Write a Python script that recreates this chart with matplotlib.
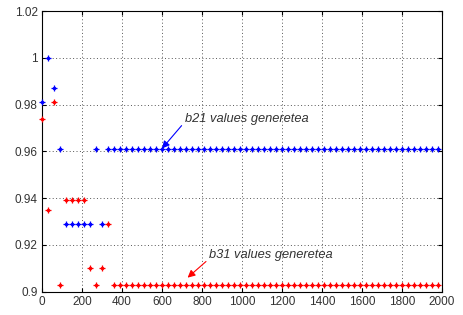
import matplotlib
matplotlib.use("Agg")
import matplotlib.pyplot as plt

plt.rcParams['font.family'] = ['Liberation Sans', 'DejaVu Sans']

# sample positions (every 30 iterations, 0..1980)
x_iter = [0, 30, 60, 90, 120, 150, 180, 210, 240, 270, 300, 330, 360, 390, 420, 450, 480, 510, 540, 570,
          600, 630, 660, 690, 720, 750, 780, 810, 840, 870, 900, 930, 960, 990, 1020, 1050, 1080, 1110, 1140, 1170,
          1200, 1230, 1260, 1290, 1320, 1350, 1380, 1410, 1440, 1470, 1500, 1530, 1560, 1590, 1620, 1650, 1680, 1710,
          1740, 1770, 1800, 1830, 1860, 1890, 1920, 1950, 1980]

# b21 values (blue)
b21 = [0.981, 1.000, 0.987, 0.961, 0.929, 0.929, 0.929, 0.929, 0.929, 0.961, 0.929, 0.961] + [0.961] * 55
# b31 values (red)
b31 = [0.974, 0.935, 0.981, 0.903, 0.939, 0.939, 0.939, 0.939, 0.910, 0.903, 0.910, 0.929] + [0.903] * 55

xticks = [0, 200, 400, 600, 800, 1000, 1200, 1400, 1600, 1800, 2000]
yticks = [0.9, 0.92, 0.94, 0.96, 0.98, 1.0, 1.02]
ytick_labels = ['0.9', '0.92', '0.94', '0.96', '0.98', '1', '1.02']

fig = plt.figure(figsize=(4.63, 3.15), dpi=100)
ax = fig.add_axes([0.0907, 0.074, 0.8639, 0.891])

# small star-like dots, like the matlab markers
for vals, col in [(b21, 'blue'), (b31, 'red')]:
    ax.plot(x_iter, vals, linestyle='none', marker='o', markersize=2.6, markeredgewidth=0,
            color=col, clip_on=False, zorder=3)
    ax.plot(x_iter, vals, linestyle='none', marker='+', markersize=4, markeredgewidth=0.9,
            color=col, clip_on=False, zorder=3)

ax.set_xlim(0, 2000)
ax.set_ylim(0.9, 1.02)
ax.set_xticks(xticks)
ax.set_yticks(yticks)
ax.set_yticklabels(ytick_labels)
ax.grid(True, linestyle=(0, (1, 2.5)), color='#555555', linewidth=0.7)
ax.tick_params(direction='in', length=3, labelsize=8.5, labelcolor='#333333',
               top=True, right=True, pad=3)
for s in ax.spines.values():
    s.set_linewidth(0.8)

# labels and arrows
ax.text(715, 0.9727, 'b21 values generetea', fontsize=9.3, style='italic', color='#333333', va='baseline')
ax.annotate('', xy=(600, 0.9612), xytext=(698, 0.9710),
            arrowprops=dict(arrowstyle='-|>', color='blue', lw=0.8, mutation_scale=11,
                            shrinkA=0, shrinkB=0))
ax.text(837, 0.9146, 'b31 values generetea', fontsize=9.3, style='italic', color='#333333', va='baseline')
ax.annotate('', xy=(728, 0.906), xytext=(820, 0.9129),
            arrowprops=dict(arrowstyle='-|>', color='red', lw=0.8, mutation_scale=11,
                            shrinkA=0, shrinkB=0))

fig.savefig('out.png', dpi=100)
